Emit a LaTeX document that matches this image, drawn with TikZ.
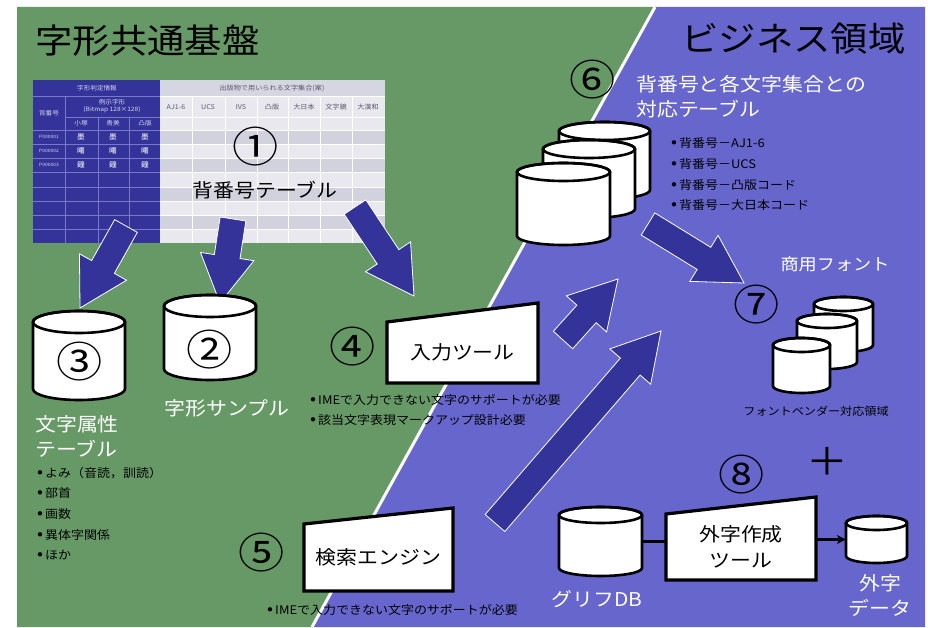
\documentclass[tikz,border=0pt]{standalone}
\usepackage{fontspec}
\setmainfont{Noto Sans CJK JP}[FakeStretch=1.1]
\usetikzlibrary{arrows.meta,calc}
\definecolor{bggreen}{RGB}{102,153,102}
\definecolor{bgpurple}{RGB}{102,102,204}
\definecolor{darkblue}{RGB}{51,51,153}
\definecolor{tlight}{RGB}{232,232,238}
\definecolor{tdark}{RGB}{210,210,222}
\definecolor{thead}{RGB}{214,214,226}
\definecolor{dgridc}{RGB}{120,120,200}
\definecolor{ttext}{RGB}{90,90,110}
\definecolor{dtext}{RGB}{215,215,240}
\tikzset{
  cylbody/.style={fill=white,draw=black,line width=2.6pt},
  cylline/.style={draw=black,line width=2.6pt},
  toolbox/.style={fill=white,draw=black,line width=3.2pt},
  tooltext/.style={inner sep=0pt,font=\fontsize{19}{26}\selectfont,align=center},
  blockarrow/.style={fill=darkblue,draw=white,line width=0.8pt},
  circnum/.style={inner sep=0pt,font=\fontsize{42}{42}\selectfont},
  biglabel/.style={inner sep=0pt,font=\fontsize{19}{25}\selectfont},
  whitelabel/.style={biglabel,text=white},
  titletext/.style={inner sep=0pt,font=\fontsize{34}{34}\selectfont},
  bullettext/.style={inner sep=0pt,font=\fontsize{11.8}{14}\selectfont,anchor=west},
  tinywhite/.style={inner sep=0pt,font=\fontsize{6}{7}\selectfont,text=dtext,align=center},
  tinygray/.style={inner sep=0pt,font=\fontsize{6.5}{7}\selectfont,text=ttext},
  dgrid/.style={draw=dgridc,line width=0.7pt},
  tline/.style={draw=white,line width=0.6pt},
  conn/.style={draw=black,line width=2.4pt}
}
\newcommand\bul{\makebox[8pt][l]{\raisebox{-0.3pt}{\fontsize{16}{16}\selectfont •}}}
% name, cx, ytop, ybot, rx, ry
\newcommand\cylinder[6]{%
  \path[cylbody] ({#2-#5},#3) -- ({#2-#5},#4)
    arc[start angle=180,end angle=360,x radius=#5pt,y radius=#6pt]
    -- ({#2+#5},#3)
    arc[start angle=0,end angle=180,x radius=#5pt,y radius=#6pt] -- cycle;
  \draw[cylline] (#2,#3) ellipse[x radius=#5pt,y radius=#6pt];
  \node[inner sep=0pt,minimum width={2*#5*1pt},minimum height={(#4-#3)*1pt}] (#1) at ({#2},{(#3+#4)/2}) {};
}
% block arrow from #1 to #2
\newcommand\blockarr[2]{%
  \coordinate (ba-hb) at ($(#2)!47pt!(#1)$);
  \path[blockarrow] ($(#1)!13pt!90:(#2)$) -- ($(ba-hb)!13pt!-90:(#1)$)
    -- ($(ba-hb)!27pt!-90:(#1)$) -- (#2) -- ($(ba-hb)!27pt!90:(#1)$)
    -- ($(ba-hb)!13pt!90:(#1)$) -- ($(#1)!13pt!-90:(#2)$) -- cycle;
}
% name, xl, xr, ytopleft, ytopright, ybottom, text
\newcommand\toolshape[7]{%
  \path[toolbox] (#2,#4) -- (#3,#5) -- (#3,#6) -- (#2,#6) -- cycle;
  \node[tooltext,minimum width={(#3-#2)*1pt},minimum height={(#6-#4)*1pt}] (#1) at ({(#2+#3)/2},{(#4+#6)/2}) {#7};
}
\begin{document}
\begin{tikzpicture}[x=1pt,y=-1pt]
\useasboundingbox (0,0) rectangle (928,628);
\fill[white] (0,0) rectangle (928,628);
% background
\fill[bggreen] (17,7) -- (655,7) -- (312,627) -- (17,627) -- cycle;
\fill[bgpurple] (655,7) -- (925,7) -- (925,627) -- (312,627) -- cycle;
\draw[white,line width=3pt] (655,7) -- (312,627);
% titles
\node[titletext,anchor=west] (title1) at (35,41) {字形共通基盤};
\node[titletext,anchor=west] (title2) at (681,39) {ビジネス領域};

% ---------- table ----------
\fill[darkblue] (33,80) rectangle (160,243);
\fill[thead] (160,80) rectangle (385,96);
\fill[tlight] (160,96) rectangle (385,117);
\foreach \ya/\yb/\c in {117/130/tlight,130/144/tdark,144/158/tlight,158/172/tdark,172/187/tlight,187/201/tdark,201/215/tlight,215/229/tdark,229/243/tlight}
  \fill[\c] (160,\ya) rectangle (385,\yb);
\foreach \x in {192,225,257,288,320,352} \draw[tline] (\x,96) -- (\x,243);
\foreach \y in {96,117,130,144,158,172,187,201,215,229} \draw[tline] (160,\y) -- (385,\y);
\draw[dgrid] (33,96) -- (160,96);
\draw[dgrid] (65,117) -- (160,117);
\foreach \y in {130,144,158,172,187,201,215,229} \draw[dgrid] (33,\y) -- (160,\y);
\draw[dgrid] (65,96) -- (65,243);
\foreach \x in {98,129} \draw[dgrid] (\x,117) -- (\x,243);
\node[tinywhite] (th1) at (97,88) {字形判定情報};
\node[tinywhite] (th2) at (49,113) {背番号};
\node[tinywhite] (th3) at (112,106) {例示字形\\(Bitmap 128×128)};
\node[tinywhite] (th4) at (81,123) {小塚};
\node[tinywhite] (th5) at (113,123) {青美};
\node[tinywhite] (th6) at (145,123) {凸版};
\foreach \n/\y/\g in {1/137/墨,2/151/曙,3/165/鐘}{
  \node[tinywhite,font=\fontsize{4.5}{5}\selectfont] (pid\n) at (49,\y) {P00000\n};
  \node[tinywhite,font=\fontsize{7}{7}\selectfont,text=white] (ga\n) at (81,\y) {\g};
  \node[tinywhite,font=\fontsize{7}{7}\selectfont,text=white] (gb\n) at (113,\y) {\g};
  \node[tinywhite,font=\fontsize{7}{7}\selectfont,text=white] (gc\n) at (145,\y) {\g};
}
\node[tinygray] (rh) at (272,88) {出版物で用いられる文字集合(案)};
\foreach \x/\t [count=\i] in {176/AJ1-6,208/UCS,241/IVS,272/凸版,304/大日本,336/文字鏡,368/大漢和}
  \node[tinygray] (col\i) at (\x,107) {\t};
\node[circnum] (n1) at (256,147) {①};
\node[biglabel] (tbl) at (265,190) {背番号テーブル};

% ---------- block arrows ----------
\coordinate (a1s) at (126,226); \coordinate (a1e) at (80,308);
\coordinate (a2s) at (233,219); \coordinate (a2e) at (220,303);
\coordinate (a3s) at (355,207); \coordinate (a3e) at (414,296);
\coordinate (a4s) at (563,340); \coordinate (a4e) at (618,279);
\coordinate (a5s) at (495,523); \coordinate (a5e) at (661,331);
\coordinate (a6s) at (648,224); \coordinate (a6e) at (744,283);
\blockarr{a1s}{a1e}
\blockarr{a2s}{a2e}
\blockarr{a3s}{a3e}
\blockarr{a4s}{a4e}
\blockarr{a5s}{a5e}
\blockarr{a6s}{a6e}

% ---------- left side ----------
\cylinder{cyl3}{79}{322}{389}{46}{11}
\node[circnum] (n3) at (80,362) {③};
\node[whitelabel,align=left,anchor=west] (lbl3) at (35,436) {文字属性\\テーブル};
\node[bullettext] (b31) at (37,473) {\bul よみ（音読，訓読）};
\node[bullettext] (b32) at (37,493) {\bul 部首};
\node[bullettext] (b33) at (37,514) {\bul 画数};
\node[bullettext] (b34) at (37,535) {\bul 異体字関係};
\node[bullettext] (b35) at (37,555) {\bul ほか};

\cylinder{cyl2}{210}{306}{369}{46}{11}
\node[circnum] (n2) at (210,350) {②};
\node[whitelabel] (lbl2) at (227,408) {字形サンプル};

\toolshape{input}{387}{538}{322}{303}{383}{入力ツール}
\node[circnum] (n4) at (353,347) {④};
\node[bullettext] (b41) at (310,400) {\bul IMEで入力できない文字のサポートが必要};
\node[bullettext] (b42) at (310,420) {\bul 該当文字表現マークアップ設計必要};

\toolshape{search}{304}{453}{524}{508}{591}{検索エンジン}
\node[circnum] (n5) at (262,553) {⑤};
\node[bullettext] (b51) at (267,610) {\bul IMEで入力できない文字のサポートが必要};

% ---------- right side ----------
\cylinder{cyl6a}{604.5}{131}{190}{45.5}{9}
\cylinder{cyl6b}{589}{149}{209}{46}{9}
\cylinder{cyl6c}{563.5}{172}{236}{46.5}{9}
\node[circnum] (n6) at (593,80) {⑥};
\node[whitelabel,align=left,anchor=west] (lbl6) at (636,96.5) {\fontsize{19}{27}\selectfont 背番号と各文字集合との\\対応テーブル};
\node[bullettext] (b61) at (671,143) {\bul 背番号－AJ1-6};
\node[bullettext] (b62) at (671,164) {\bul 背番号－UCS};
\node[bullettext] (b63) at (671,185) {\bul 背番号－凸版コード};
\node[bullettext] (b64) at (671,205) {\bul 背番号－大日本コード};

\node[whitelabel,font=\fontsize{16.5}{20}\selectfont] (lbl7) at (835,264) {商用フォント};
\node[circnum] (n7) at (757,305) {⑦};
\cylinder{cyl7a}{843.5}{304}{345}{29.5}{7}
\cylinder{cyl7b}{827}{321}{362}{30}{7}
\cylinder{cyl7c}{801.5}{345}{386}{28.5}{7}
\node[bullettext,anchor=center,font=\fontsize{11}{13}\selectfont] (lbl7b) at (816,411) {フォントベンダー対応領域};

\node[circnum] (n8) at (742,475) {⑧};
\node[inner sep=0pt,font=\fontsize{38}{38}\selectfont] (plus) at (827,461) {＋};
\cylinder{gdb}{600.5}{515}{568}{41.5}{8}
\toolshape{gtool}{666}{816}{514}{497}{580}{外字作成\\ツール}
\cylinder{gdata}{876.5}{523}{556}{30.5}{7}
\draw[conn] (gdb.east) -- (gdb.east -| gtool.west);
\draw[conn,-{Stealth[length=9pt,width=9pt]}] (gdata.west -| gtool.east) -- (gdata.west);
\node[whitelabel] (lbldb) at (597,599) {グリフDB};
\node[whitelabel,align=center] (lblgd) at (880,595.5) {外字\\データ};
\end{tikzpicture}
\end{document}
